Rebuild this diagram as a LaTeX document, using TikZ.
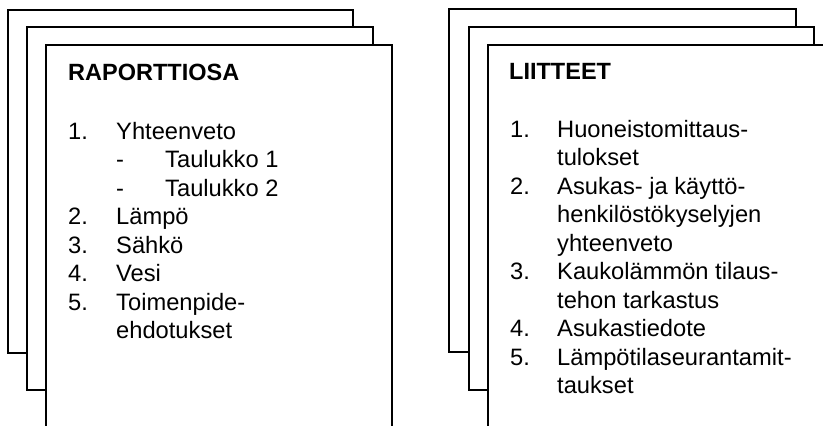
\documentclass[tikz,border=0pt]{standalone}
\usepackage{fontspec}
\setmainfont{Liberation Sans}
\begin{document}
\begin{tikzpicture}[x=1pt,y=-1pt,
  sheet/.style={draw=black,line width=2.5pt,fill=white},
  txt/.style={inner sep=0pt,anchor=base west,font=\fontsize{23.7}{28}\selectfont},
  head/.style={txt,font=\fontsize{23.5}{28}\selectfont\bfseries}]
\clip (0,0) rectangle (823,426);
\fill[white] (0,0) rectangle (823,426);
% left stack
\draw[sheet] (8,10) rectangle (353,353);
\draw[sheet] (27,27) rectangle (373,390);
\draw[sheet] (46,45) rectangle (392,445);
% right stack
\draw[sheet] (449,9) rectangle (796,352);
\draw[sheet] (469,27) rectangle (814,390);
\draw[sheet] (488,45) rectangle (845,445);
% left text
\node[head] (lh) at (68,80) {RAPORTTIOSA};
\node[txt] (l1n) at (68,139) {1.};
\node[txt] (l1) at (116,139) {Yhteenveto};
\node[txt] (l1ad) at (116,167.5) {-};
\node[txt] (l1a) at (165,167.5) {Taulukko 1};
\node[txt] (l1bd) at (116,196) {-};
\node[txt] (l1b) at (165,196) {Taulukko 2};
\node[txt] (l2n) at (68,224.5) {2.};
\node[txt] (l2) at (116,224.5) {Lämpö};
\node[txt] (l3n) at (68,253) {3.};
\node[txt] (l3) at (116,253) {Sähkö};
\node[txt] (l4n) at (68,281.5) {4.};
\node[txt] (l4) at (116,281.5) {Vesi};
\node[txt] (l5n) at (68,310) {5.};
\node[txt] (l5) at (116,310) {Toimenpide-};
\node[txt] (l5b) at (116,338.5) {ehdotukset};
% right text
\node[head] (rh) at (509,79) {LIITTEET};
\node[txt] (r1n) at (510,137) {1.};
\node[txt] (r1) at (557,137) {Huoneistomittaus-};
\node[txt] (r1b) at (557,165.5) {tulokset};
\node[txt] (r2n) at (510,194) {2.};
\node[txt] (r2) at (557,194) {Asukas- ja käyttö-};
\node[txt] (r2b) at (557,222.5) {henkilöstökyselyjen};
\node[txt] (r2c) at (557,251) {yhteenveto};
\node[txt] (r3n) at (510,279.5) {3.};
\node[txt] (r3) at (557,279.5) {Kaukolämmön tilaus-};
\node[txt] (r3b) at (557,308) {tehon tarkastus};
\node[txt] (r4n) at (510,336.5) {4.};
\node[txt] (r4) at (557,336.5) {Asukastiedote};
\node[txt] (r5n) at (510,365) {5.};
\node[txt] (r5) at (557,365) {Lämpötilaseurantamit-};
\node[txt] (r5b) at (557,393.5) {taukset};
\end{tikzpicture}
\end{document}
